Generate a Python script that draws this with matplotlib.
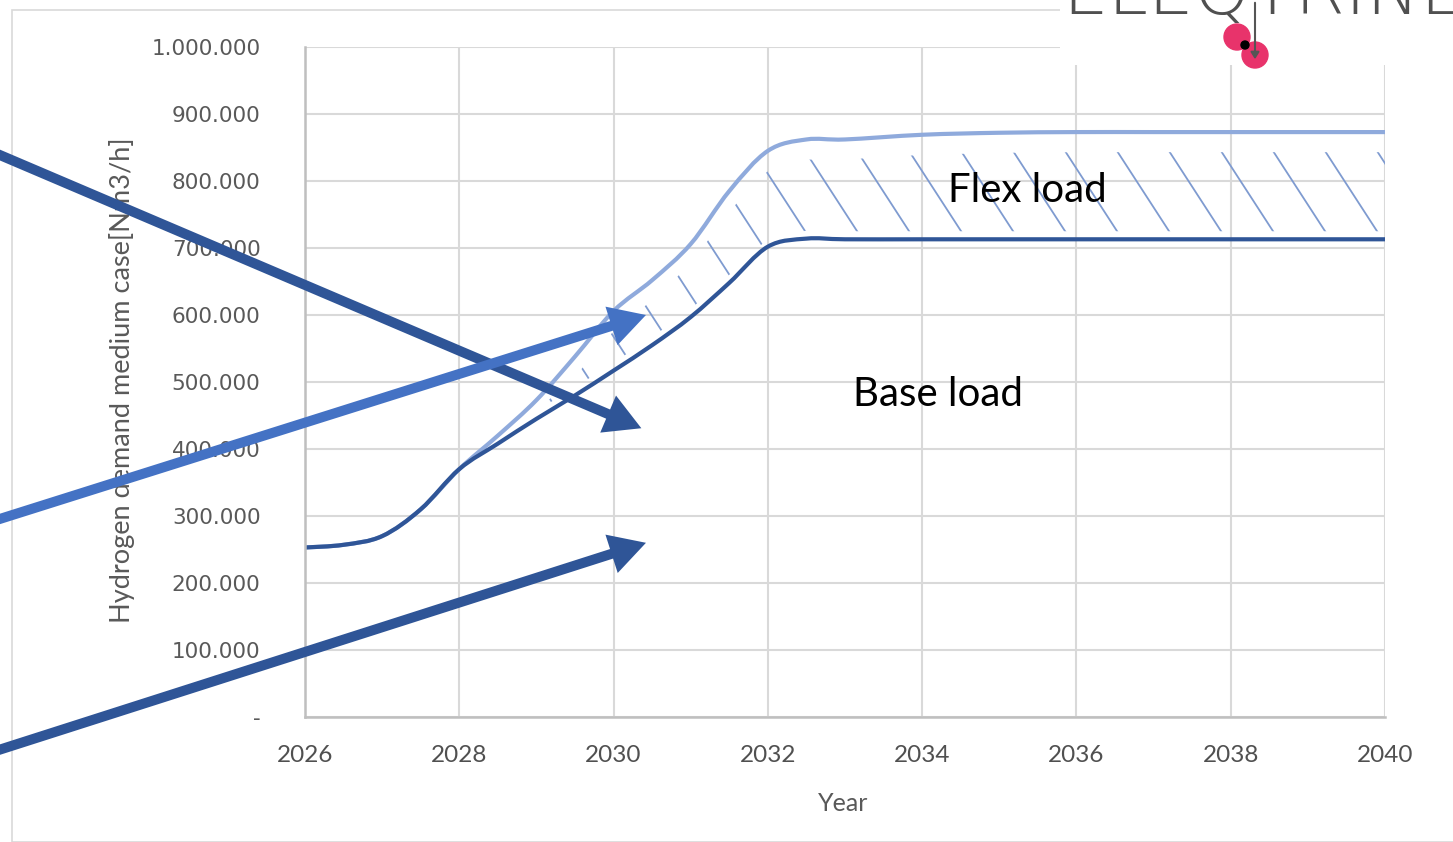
import numpy as np
import matplotlib
matplotlib.use("Agg")
import matplotlib.pyplot as plt
from matplotlib.patches import Circle, Rectangle, FancyArrowPatch, PathPatch
from matplotlib.path import Path

# data (Nm3/h)
years = [2026, 2026.5, 2027, 2027.5, 2028, 2028.5, 2029, 2029.5, 2030, 2030.5,
         2031, 2031.5, 2032, 2032.5, 2033, 2034, 2035, 2036, 2037, 2038, 2039, 2040]
base_load = [253000, 257000, 270000, 310000, 370000, 408000, 445000, 480000, 517000, 555000,
             597000, 648000, 702000, 714000, 713000, 713000, 713000, 713000, 713000, 713000, 713000, 713000]
flex_load = [253000, 257000, 270000, 310000, 370000, 420000, 473000, 538000, 606000, 652000,
             706000, 785000, 845000, 862000, 862000, 869000, 872000, 873000, 873000, 873000, 873000, 873000]

y_ticks = [0, 100000, 200000, 300000, 400000, 500000, 600000, 700000, 800000, 900000, 1000000]
y_ticklabels = ["-", "100.000", "200.000", "300.000", "400.000", "500.000",
                "600.000", "700.000", "800.000", "900.000", "1.000.000"]
x_ticks = [2026, 2028, 2030, 2032, 2034, 2036, 2038, 2040]

DARK = "#2F5597"
LIGHT = "#8FAADC"
HATCH = "#7F9BD0"
ARROW_LIGHT = "#4472C4"
GREY = "#595959"


def smooth_line(ax, x, y, **kw):
    # smoothed line like excel's, drawn as bezier segments through the points
    pts = np.column_stack([x, y]).astype(float)
    ext = np.vstack([pts[0], pts, pts[-1]])
    verts = [pts[0]]
    codes = [Path.MOVETO]
    for i in range(len(pts) - 1):
        p0, p1, p2, p3 = ext[i], ext[i + 1], ext[i + 2], ext[i + 3]
        verts += [p1 + (p2 - p0) / 6, p2 - (p3 - p1) / 6, p2]
        codes += [Path.CURVE4] * 3
    patch = PathPatch(Path(verts, codes), facecolor="none", capstyle="round", **kw)
    ax.add_patch(patch)
    return patch


fig = plt.figure(figsize=(14.53, 8.42), dpi=100)
ax = fig.add_axes([305/1453, 1 - 717/842, 1080/1453, 670/842])

ax.set_xlim(2026, 2040)
ax.set_ylim(0, 1000000)
ax.set_xticks(x_ticks)
ax.set_yticks(y_ticks)
ax.set_yticklabels(y_ticklabels)
ax.grid(True, color="#D9D9D9", lw=1.5)
ax.set_axisbelow(True)
for s in ["top", "right"]:
    ax.spines[s].set_visible(False)
for s in ["left", "bottom"]:
    ax.spines[s].set_color("#BFBFBF")
    ax.spines[s].set_linewidth(1.8)
ax.tick_params(length=0)
ax.tick_params(axis="y", pad=32, labelsize=15.5, labelcolor=GREY)
ax.tick_params(axis="x", pad=20, labelsize=17.5, labelcolor="#505050")
for lab in ax.get_xticklabels():
    lab.set_family("Lato")

ax.set_xlabel("Year", family="Lato", fontsize=18, color=GREY)
ax.xaxis.set_label_coords(0.498, -0.112)
ax.set_ylabel("Hydrogen demand medium case[Nm3/h]", family="Lato", fontsize=19.5, color=GREY)
ax.yaxis.set_label_coords(-0.157, 0.503)

# hatched flex region
yrs = np.array(years)
b = np.array(base_load)
f = np.array(flex_load)
region = ax.fill_between(yrs, b + 12000, np.maximum(f - 30000, b + 12000),
                         facecolor="none", edgecolor="none")
clip = region.get_paths()[0]
for x0 in np.arange(2037.89 - 0.674 * 20, 2041, 0.674):
    ln, = ax.plot([x0 - 0.648 * 2, x0 + 0.648 * 8], [842000 + 230000, 842000 - 920000],
                  color=HATCH, lw=1.3)
    ln.set_clip_path(clip, ax.transData)

smooth_line(ax, yrs, f, edgecolor=LIGHT, lw=3.0)
smooth_line(ax, yrs, b, edgecolor=DARK, lw=3.0)

ax.text(2035.36, 786000, "Flex load", family="Lato", fontsize=29, color="black",
        ha="center", va="center")
ax.text(2034.2, 482000, "Base load", family="Lato", fontsize=29, color="black",
        ha="center", va="center")

# arrows coming from outside the plot
arrows = [((2030.36, 431000), (-0.005, 0.8195), DARK),
          ((2030.42, 260000), (-0.005, 0.107), DARK),
          ((2030.42, 600000), (-0.005, 0.381), ARROW_LIGHT)]
for tip, tail, col in arrows:
    arr = FancyArrowPatch(posA=fig.transFigure.transform(tail), posB=ax.transData.transform(tip),
                          transform=None,
                          arrowstyle="simple,head_length=1.3,head_width=1.45,tail_width=0.36",
                          mutation_scale=20, color=col, lw=0, shrinkA=0, shrinkB=0,
                          zorder=10, clip_on=False)
    fig.add_artist(arr)

# chart frame
fig.add_artist(Rectangle((12/1453, 0), 1.0, 1 - 10/842, transform=fig.transFigure,
                         fill=False, edgecolor="#D9D9D9", lw=1.2, zorder=0))

# logo corner
fig.add_artist(Rectangle((1060/1453, 1 - 65/842), 1.0, 1.0, transform=fig.transFigure,
                         facecolor="white", edgecolor="none", zorder=5))
fig.text(1062/1453, 1 - 14/842, "ELEQTRINEG", family="DejaVu Sans", fontsize=52,
         color="#505050", fontweight="light", ha="left", va="baseline", zorder=6)
tr = fig.dpi_scale_trans
fig.add_artist(Circle((12.37, 8.42 - 0.37), 0.13, transform=tr, color="#E8336B", zorder=7))
fig.add_artist(Circle((12.55, 8.42 - 0.55), 0.13, transform=tr, color="#E8336B", zorder=7))
fig.add_artist(Circle((12.45, 8.42 - 0.45), 0.04, transform=tr, color="black", zorder=8))
fig.add_artist(FancyArrowPatch((12.55, 8.42), (12.55, 8.42 - 0.62), transform=tr,
                               arrowstyle="-|>,head_length=4,head_width=2.5",
                               color="#555555", lw=1.5, zorder=8))

fig.savefig("out.png", dpi=100)
